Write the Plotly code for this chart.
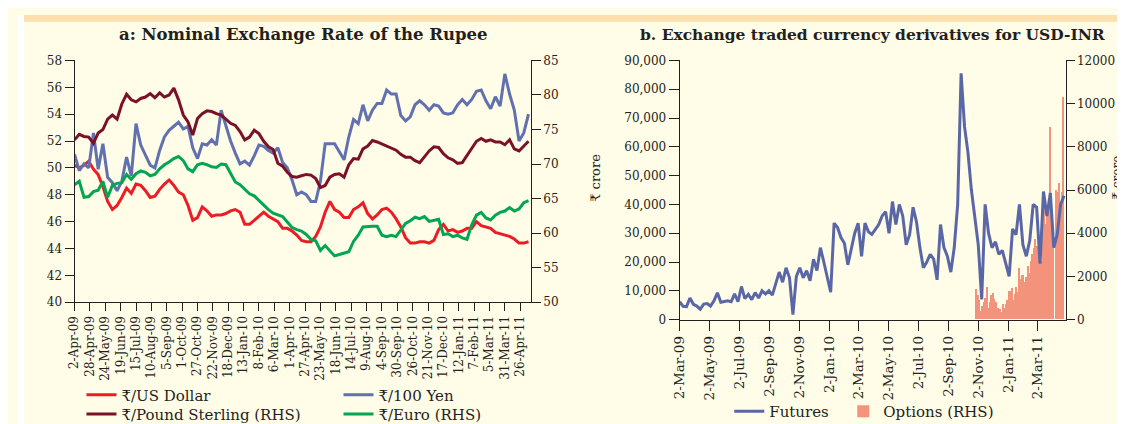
import pandas as pd
import plotly.graph_objects as go

# ---- panel a: nominal exchange rate of the rupee (values read every 8 days) ----
usd = [50.2, 50.0, 50.2, 50.5, 49.9, 49.5, 48.6, 47.5, 46.9, 47.2,
       47.8, 48.5, 48.1, 48.8, 48.7, 48.3, 47.8, 47.9, 48.4, 48.8,
       49.1, 48.7, 48.2, 48.0, 47.2, 46.1, 46.3, 47.1, 46.8, 46.4,
       46.5, 46.5, 46.6, 46.8, 46.9, 46.7, 45.8, 45.8, 46.1, 46.4,
       46.7, 46.4, 46.2, 46.0, 45.5, 45.5, 45.3, 45.0, 44.6, 44.5,
       44.5, 44.9, 45.6, 46.7, 47.5, 46.9, 46.7, 46.3, 46.3, 46.9,
       47.1, 47.4, 46.6, 46.2, 46.5, 46.9, 47.0, 46.7, 46.2, 45.6,
       44.8, 44.4, 44.4, 44.5, 44.5, 44.4, 44.6, 45.4, 45.8, 45.3,
       45.4, 45.2, 45.3, 45.5, 45.5, 46.0, 45.7, 45.6, 45.5, 45.2,
       45.1, 45.0, 44.9, 44.7, 44.4, 44.4, 44.5]
yen = [51.0, 49.8, 50.3, 50.0, 52.6, 49.9, 51.8, 49.3, 48.9, 48.3,
       49.0, 50.8, 49.4, 53.3, 51.7, 50.9, 50.2, 50.0, 51.3, 52.3,
       52.8, 53.1, 53.4, 52.9, 53.1, 51.5, 50.7, 51.8, 51.7, 52.1,
       51.7, 54.3, 53.1, 52.0, 51.1, 50.3, 50.5, 50.2, 50.9, 51.7,
       51.6, 51.3, 51.1, 51.5, 50.4, 50.0, 49.1, 48.0, 48.2, 48.0,
       47.5, 47.5, 49.0, 51.8, 51.8, 51.8, 51.2, 50.6, 52.3, 53.6,
       53.3, 54.7, 53.5, 54.3, 54.8, 54.8, 55.8, 55.5, 55.5, 53.9,
       53.5, 53.8, 54.7, 55.0, 54.7, 54.3, 54.7, 54.6, 54.1, 54.0,
       54.1, 54.7, 55.1, 54.7, 55.1, 55.7, 55.8, 55.0, 54.4, 55.3,
       54.6, 57.0, 55.5, 54.3, 52.0, 52.6, 54.0]
gbp = [73.5, 74.3, 74.0, 73.9, 73.0, 74.5, 75.0, 76.5, 77.1, 76.5,
       78.7, 80.1, 79.3, 79.0, 79.5, 79.7, 80.2, 79.6, 80.3, 79.7,
       80.0, 81.0, 79.3, 77.1, 76.1, 74.2, 76.6, 77.3, 77.7, 77.6,
       77.3, 77.1, 76.5, 75.9, 75.6, 74.7, 73.5, 73.9, 74.9, 74.4,
       73.3, 72.5, 72.1, 70.1, 69.7, 68.8, 68.2, 68.1, 68.3, 68.5,
       68.4, 67.9, 66.6, 66.9, 68.1, 68.5, 68.6, 68.1, 69.9, 70.8,
       70.7, 72.2, 72.6, 73.4, 73.2, 72.9, 72.6, 72.2, 72.0, 71.4,
       71.0, 71.0, 70.5, 70.2, 71.0, 71.9, 72.5, 72.4, 71.5, 70.9,
       70.6, 70.1, 70.2, 71.3, 72.4, 73.3, 73.7, 73.3, 73.5, 73.2,
       73.2, 72.8, 73.5, 72.2, 71.9, 72.6, 73.3]
eur = [67.0, 67.5, 65.2, 65.3, 66.0, 66.2, 67.5, 65.2, 66.9, 67.2,
       67.3, 68.5, 67.8, 68.6, 69.0, 68.8, 68.3, 68.5, 69.3, 69.9,
       70.3, 70.8, 71.1, 70.5, 69.3, 68.9, 69.9, 70.1, 69.9, 69.6,
       69.5, 70.0, 69.9, 68.7, 67.4, 67.0, 66.3, 65.7, 65.4, 64.7,
       64.1, 63.4, 62.9, 62.6, 62.4, 61.6, 60.8, 60.5, 60.3, 59.8,
       59.1, 58.9, 57.5, 58.2, 57.4, 56.7, 56.9, 57.1, 57.3, 58.8,
       59.7, 60.9, 61.0, 61.0, 61.0, 59.7, 59.5, 59.7, 59.5, 60.5,
       61.4, 61.8, 62.3, 62.1, 62.4, 61.7, 61.8, 62.0, 59.8, 59.9,
       59.5, 59.7, 59.3, 59.1, 61.2, 62.6, 63.0, 62.2, 61.9, 62.6,
       63.0, 63.2, 63.7, 63.2, 63.5, 64.4, 64.7]
fx_dates = pd.date_range("2009-04-02", periods=len(usd), freq="8D")

# ---- panel b: exchange traded USD-INR derivatives, Rs crore ----
futures = [6200, 4600, 4500, 7500, 5300, 4700, 3600, 5400, 5600, 4700,
           6500, 9300, 6000, 6300, 6500, 6200, 8900, 6200, 11500, 7300,
           8800, 6900, 9400, 7500, 10000, 8900, 10000, 8500, 12500, 16500,
           13000, 18000, 14500, 1700, 15000, 18000, 14500, 17000, 13500, 21000,
           17000, 25000, 20000, 14500, 9500, 33500, 32000, 28500, 26500, 19000,
           24000, 30000, 33500, 22000, 33500, 30500, 29600, 31500, 33000, 36000,
           37500, 30000, 41000, 33000, 40000, 36000, 26000, 29500, 39000, 34000,
           25000, 18000, 20000, 22700, 21000, 13800, 33000, 25000, 22000, 16500,
           25000, 40000, 85500, 67000, 58000, 45000, 36000, 26000, 7000, 40000,
           30000, 25000, 27000, 22700, 24000, 19400, 15000, 31500, 29500, 40000,
           26000, 22000, 27500, 40000, 39000, 19400, 44500, 36000, 44000, 25000,
           29500, 40000, 43000]
fut_dates = pd.date_range("2009-03-02", periods=len(futures), freq="7D")

options = [1400, 1100, 900, 400, 600, 800, 1000, 1500, 500, 800,
           1100, 1200, 950, 800, 350, 500, 450, 350, 700, 500,
           700, 900, 1300, 1300, 1450, 900, 1150, 1500, 1250, 2350,
           1850, 2050, 2050, 1700, 1950, 2450, 2150, 2700, 3000, 3300,
           3700, 3400, 3300, 3100, 2700, 3900, 5300, 4400, 5200, 5100,
           8900, 5100, 3900, 0, 6000, 5900, 6300, 4800, 5900, 10300]
opt_dates = pd.date_range("2010-10-28", periods=len(options), freq="3D")

INK = "#231F20"
BG = "#FFFCE8"
FONT = "DejaVu Serif"
W, H = 1125, 424


def px(x):
    return x / W


def py(y):
    return (H - y) / H


fig = go.Figure()

fig.add_trace(go.Scatter(x=fx_dates, y=usd, name="₹/US Dollar", mode="lines",
                         line=dict(color="#ED1C24", width=3), xaxis="x", yaxis="y",
                         legend="legend"))
fig.add_trace(go.Scatter(x=fx_dates, y=yen, name="₹/100 Yen", mode="lines",
                         line=dict(color="#6171AF", width=3), xaxis="x", yaxis="y",
                         legend="legend"))
fig.add_trace(go.Scatter(x=fx_dates, y=gbp, name="₹/Pound Sterling (RHS)", mode="lines",
                         line=dict(color="#7B1128", width=3), xaxis="x", yaxis="y2",
                         legend="legend2"))
fig.add_trace(go.Scatter(x=fx_dates, y=eur, name="₹/Euro (RHS)", mode="lines",
                         line=dict(color="#00A651", width=3), xaxis="x", yaxis="y2",
                         legend="legend2"))

fig.add_trace(go.Bar(x=opt_dates, y=options, name="Options (RHS)",
                     marker=dict(color="#F4937B", line=dict(width=0)),
                     width=3 * 86400000, xaxis="x2", yaxis="y3",
                     legend="legend3", legendrank=2, legendwidth=140))
fig.add_trace(go.Scatter(x=fut_dates, y=futures, name="Futures", mode="lines",
                         line=dict(color="#5A67A6", width=3), xaxis="x2", yaxis="y4",
                         legend="legend3", legendrank=1))

axis_common = dict(showline=True, linecolor=INK, linewidth=1, ticks="outside",
                   tickcolor=INK, showgrid=False, zeroline=False,
                   tickfont=dict(family=FONT, size=12, color=INK))

fig.update_layout(
    width=W, height=H, autosize=False,
    margin=dict(l=0, r=0, t=0, b=0),
    paper_bgcolor=BG, plot_bgcolor="rgba(0,0,0,0)",
    font=dict(family=FONT, color=INK),
    bargap=0,
    xaxis=dict(axis_common, domain=[px(58), px(518)], anchor="y",
               type="date", range=["2009-04-02", "2011-05-14"],
               tick0="2009-04-02", dtick=26 * 86400000, tickformat="%-d-%b-%y",
               tickangle=-90, ticklen=8),
    yaxis=dict(axis_common, domain=[py(297), py(47)], anchor="x",
               range=[40, 58], dtick=2, ticklen=9),
    yaxis2=dict(axis_common, overlaying="y", side="right", anchor="x",
                range=[50, 85], dtick=5, ticklen=9),
    xaxis2=dict(axis_common, domain=[px(668), px(1057)], anchor="y3",
                type="date", range=["2009-03-02", "2011-04-28"],
                tick0="2009-03-02", dtick="M2", tickformat="%-d-%b-%y",
                tickangle=-90, ticklen=10,
                tickfont=dict(family=FONT, size=13.5, color=INK)),
    yaxis3=dict(axis_common, domain=[py(315), py(47)], anchor="x2", side="right",
                range=[0, 12000], dtick=2000, tickformat="d", ticklen=8),
    yaxis4=dict(axis_common, overlaying="y3", side="left", anchor="x2",
                range=[0, 90000], dtick=10000, tickformat=",", ticklen=10),
    legend=dict(orientation="h", x=px(65), xanchor="left", y=py(393), yanchor="middle",
                entrywidth=212, entrywidthmode="pixels", bgcolor="rgba(0,0,0,0)",
                font=dict(family=FONT, size=15, color=INK), itemclick=False),
    legend2=dict(orientation="h", x=px(65), xanchor="left", y=py(413), yanchor="middle",
                 entrywidth=212, entrywidthmode="pixels", bgcolor="rgba(0,0,0,0)",
                 font=dict(family=FONT, size=15, color=INK), itemclick=False),
    legend3=dict(orientation="h", x=px(718), xanchor="left", y=py(410), yanchor="middle",
                 entrywidth=69, entrywidthmode="pixels", bgcolor="rgba(0,0,0,0)",
                 font=dict(family=FONT, size=15, color=INK), itemclick=False),
    shapes=[
        dict(type="rect", xref="paper", yref="paper", x0=0, x1=px(7), y0=0, y1=1,
             fillcolor="white", line=dict(width=0), layer="below"),
        dict(type="rect", xref="paper", yref="paper", x0=px(7), x1=1, y0=py(7), y1=1,
             fillcolor="#FDDFAE", line=dict(width=0), layer="below"),
    ],
    annotations=[
        dict(text="<b>a: Nominal Exchange Rate of the Rupee</b>", xref="paper", yref="paper",
             x=px(289), y=py(20), xanchor="center", yanchor="middle", showarrow=False,
             font=dict(family=FONT, size=16.5, color=INK)),
        dict(text="<b>b. Exchange traded currency derivatives for USD-INR</b>",
             xref="paper", yref="paper", x=px(862), y=py(20), xanchor="center",
             yanchor="middle", showarrow=False, font=dict(family=FONT, size=15.5, color=INK)),
        dict(text="₹ crore", xref="paper", yref="paper", x=px(583), y=py(168),
             xanchor="center", yanchor="middle", textangle=-90, showarrow=False,
             font=dict(family=FONT, size=13, color=INK)),
        dict(text="₹ crore", xref="paper", yref="paper", x=px(1109), y=py(168),
             xanchor="center", yanchor="middle", textangle=-90, showarrow=False,
             font=dict(family=FONT, size=12, color=INK)),
    ],
)

fig.write_html("out.html")
